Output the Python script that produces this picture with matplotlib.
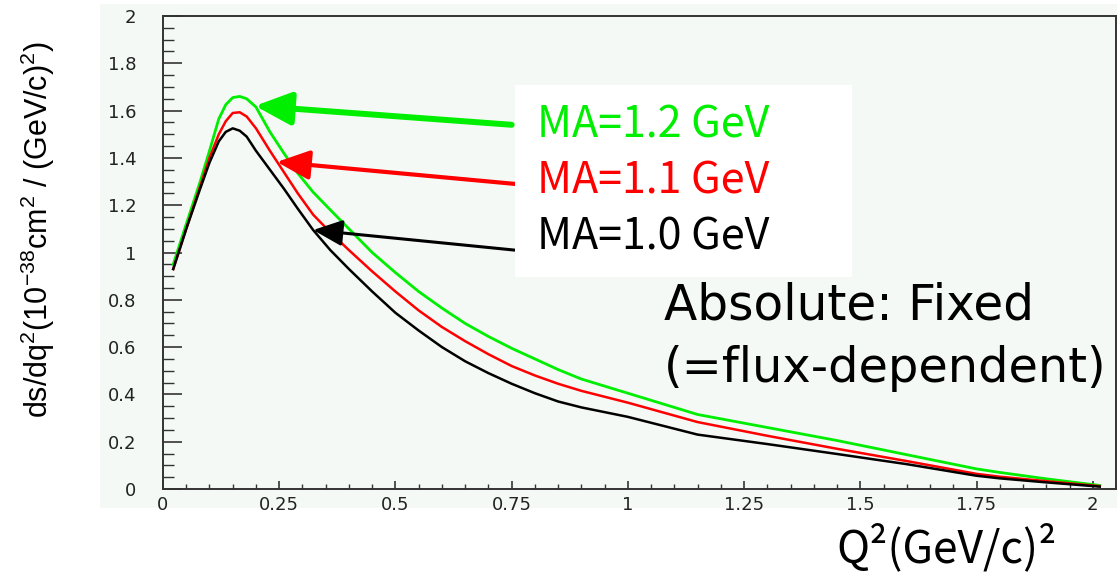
import matplotlib
matplotlib.use("Agg")
import matplotlib.pyplot as plt
from matplotlib import font_manager
from matplotlib.patches import Rectangle

# ---------------- data ----------------
q2 = [0.022, 0.05, 0.08, 0.10, 0.12, 0.135, 0.15, 0.165, 0.18, 0.20, 0.23,
      0.26, 0.29, 0.323, 0.36, 0.40, 0.45, 0.50, 0.55, 0.60, 0.65, 0.70, 0.75,
      0.80, 0.85, 0.90, 1.00, 1.15, 1.30, 1.45, 1.60, 1.75, 1.80, 1.90, 2.015]
ma10 = [0.93, 1.10, 1.27, 1.38, 1.47, 1.51, 1.525, 1.515, 1.49, 1.43, 1.35,
        1.27, 1.185, 1.095, 1.01, 0.93, 0.835, 0.745, 0.67, 0.60, 0.54, 0.49,
        0.445, 0.405, 0.37, 0.345, 0.305, 0.23, 0.19, 0.148, 0.105, 0.056,
        0.045, 0.028, 0.01]
ma11 = [0.93, 1.10, 1.28, 1.40, 1.50, 1.555, 1.59, 1.593, 1.575, 1.525, 1.43,
        1.34, 1.25, 1.16, 1.085, 1.01, 0.92, 0.835, 0.755, 0.685, 0.625, 0.57,
        0.52, 0.48, 0.445, 0.415, 0.365, 0.283, 0.225, 0.17, 0.118, 0.064,
        0.052, 0.033, 0.012]
ma12 = [0.95, 1.12, 1.30, 1.43, 1.565, 1.625, 1.655, 1.66, 1.65, 1.615, 1.51,
        1.42, 1.335, 1.255, 1.18, 1.10, 1.00, 0.915, 0.835, 0.765, 0.70, 0.645,
        0.595, 0.55, 0.505, 0.465, 0.405, 0.315, 0.26, 0.205, 0.145, 0.085,
        0.07, 0.043, 0.015]
labels = ["MA=1.2 GeV", "MA=1.1 GeV", "MA=1.0 GeV"]
colors = ["#00ee00", "#ff0000", "#000000"]
xticks = [0, 0.25, 0.5, 0.75, 1, 1.25, 1.5, 1.75, 2]
xticklabels = ["0", "0.25", "0.5", "0.75", "1", "1.25", "1.5", "1.75", "2"]
yticks = [0, 0.2, 0.4, 0.6, 0.8, 1, 1.2, 1.4, 1.6, 1.8, 2]
yticklabels = ["0", "0.2", "0.4", "0.6", "0.8", "1", "1.2", "1.4", "1.6", "1.8", "2"]
# arrow tips / tails (data coords) for each label
arrow_tips = [(0.198, 1.62), (0.245, 1.383), (0.323, 1.095)]
arrow_tails = [(0.75, 1.54), (0.757, 1.29), (0.757, 1.01)]

# ---------------- fonts ----------------
avail = {f.name for f in font_manager.fontManager.ttflist}
narrow = "Liberation Sans Narrow" if "Liberation Sans Narrow" in avail else "Noto Sans CJK JP"

plt.rcParams['mathtext.fontset'] = 'custom'
plt.rcParams['mathtext.rm'] = 'Liberation Sans'
plt.rcParams['mathtext.it'] = 'Liberation Sans:italic'

W, H = 1117, 579
fig = plt.figure(figsize=(W / 100, H / 100), dpi=100)
fig.patch.set_facecolor("white")

def px(x, y):
    return x / W, 1 - y / H

# pad background
fig.patches.append(Rectangle((100 / W, 1 - 508 / H), (W - 100) / W, (508 - 4) / H,
                             transform=fig.transFigure, facecolor="#f4f9f6",
                             edgecolor="none", zorder=-1))

left, right, top, bottom = 163, 1116, 16, 489
ax = fig.add_axes([left / W, 1 - bottom / H, (right - left) / W, (bottom - top) / H])
ax.set_zorder(1)
ax.set_facecolor("#f4f9f6")
ax.set_xlim(0, 2.05)
ax.set_ylim(0, 2)

for s in ax.spines.values():
    s.set_color("#333333")
    s.set_linewidth(1.4)

ax.set_xticks(xticks)
ax.set_xticklabels(xticklabels)
ax.set_yticks(yticks)
ax.set_yticklabels(yticklabels)
ax.set_xticks([i * 0.05 for i in range(0, 42)], minor=True)
ax.set_yticks([i * 0.05 for i in range(0, 41)], minor=True)
ax.tick_params(axis="x", which="major", direction="in", length=6, width=1.2,
               color="#333333", pad=5, labelsize=13, labelcolor="#222222",
               top=False)
ax.tick_params(axis="x", which="minor", direction="in", length=3.5, width=1.0,
               color="#333333", top=False)
ax.tick_params(axis="y", which="major", direction="in", length=14, width=1.2,
               color="#333333", pad=19, labelsize=13, labelcolor="#222222",
               right=False)
ax.tick_params(axis="y", which="minor", direction="in", length=8, width=1.0,
               color="#333333", right=False)
for lab in ax.get_xticklabels() + ax.get_yticklabels():
    lab.set_fontfamily("DejaVu Sans")

ax.plot(q2, ma12, color=colors[0], lw=2.0, zorder=3)
ax.plot(q2, ma11, color=colors[1], lw=1.8, zorder=3)
ax.plot(q2, ma10, color=colors[2], lw=1.8, zorder=3)

# arrows
lws = [4.3, 3.0, 2.2]
heads = [(1.1, 0.5), (1.0, 0.45), (0.9, 0.4)]
for tip, tail, c, lw, (hl, hw) in zip(arrow_tips, arrow_tails, colors, lws, heads):
    ax.annotate("", xy=tip, xytext=tail,
                arrowprops=dict(arrowstyle=f"-|>,head_length={hl},head_width={hw}",
                                color=c, lw=lw, mutation_scale=20,
                                shrinkA=0, shrinkB=0),
                zorder=4)

# legend box (white)
fig.patches.append(Rectangle((515 / W, 1 - 277 / H), (852 - 515) / W, (277 - 85) / H,
                             transform=fig.transFigure, facecolor="white",
                             edgecolor="none", zorder=5))
for lab, c, yc in zip(labels, colors, [125, 181, 238]):
    fig.text(*px(537, yc), lab, color=c, fontsize=31, family=narrow,
             ha="left", va="center", zorder=6)

fig.text(*px(664, 305), "Absolute: Fixed", fontsize=35, family="DejaVu Sans",
         ha="left", va="center", color="black", zorder=6)
fig.text(*px(664, 368), "(=flux-dependent)", fontsize=34.5, family="DejaVu Sans",
         ha="left", va="center", color="black", zorder=6)

fig.text(*px(947, 548), "Q²(GeV/c)²", fontsize=32, family=narrow,
         ha="center", va="center", color="black")
fig.text(*px(38, 230), r"ds/dq$^2$(10$^{-38}$cm$^2$ / (GeV/c)$^2$)", fontsize=22,
         family="Liberation Sans", rotation=90, ha="center", va="center",
         color="black")

fig.savefig("out.png", dpi=100, facecolor="white")
